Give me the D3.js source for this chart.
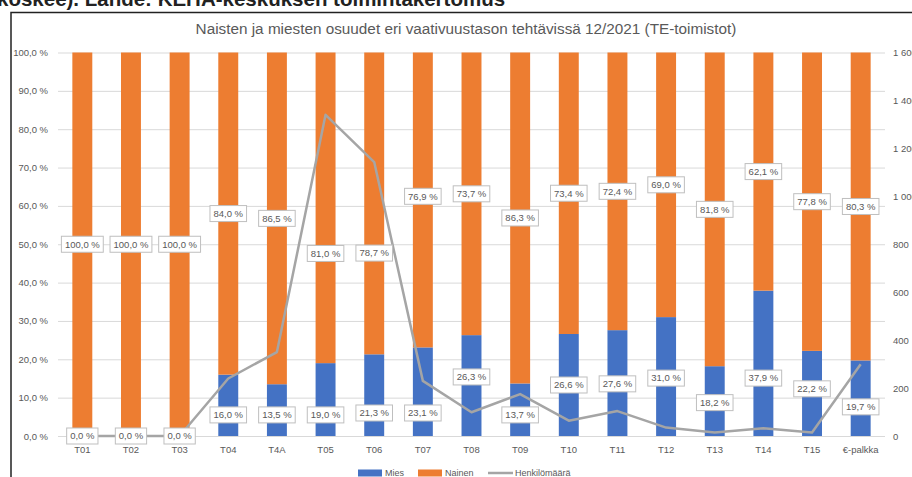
<!DOCTYPE html>
<html>
<head>
<meta charset="utf-8">
<script src="https://cdn.jsdelivr.net/npm/d3@7"></script>
<style>
  body { margin: 0; background: #fff; }
  svg { display: block; font-family: "Liberation Sans", Arial, sans-serif; }
</style>
</head>
<body>
<div id="chart"></div>
<script>
// Categories (vaativuustaso)
const categories = ["T01","T02","T03","T04","T4A","T05","T06","T07","T08","T09","T10","T11","T12","T13","T14","T15","€-palkka"];
// Shares in percent
const mies   = [0, 0, 0, 16.0, 13.5, 19.0, 21.3, 23.1, 26.3, 13.7, 26.6, 27.6, 31.0, 18.2, 37.9, 22.2, 19.7];
const nainen = [100, 100, 100, 84.0, 86.5, 81.0, 78.7, 76.9, 73.7, 86.3, 73.4, 72.4, 69.0, 81.8, 62.1, 77.8, 80.3];
// Headcount (right axis)
const henkilomaara = [0, 0, 0, 240, 350, 1340, 1143, 230, 99, 175, 64, 104, 35, 15, 32, 15, 299];

// Axis ticks
const pctTicks = [0, 10, 20, 30, 40, 50, 60, 70, 80, 90, 100];
const countTicks = [0, 200, 400, 600, 800, 1000, 1200, 1400, 1600];

// Where the data labels sit, in percent units (some were dragged in the original)
const miesLabelAt   = [0, 0, 0, 5.5, 5.5, 5.5, 6, 6, 15.4, 5.5, 13.3, 13.6, 15.1, 8.7, 15.1, 12.3, 7.6];
const nainenLabelAt = [50, 50, 50, 58, 56.75, 47.6, 47.7, 62.5, 63.15, 56.85, 63.3, 63.8, 65.5, 59.1, 68.95, 61.1, 59.85];

const title = "Naisten ja miesten osuudet eri vaativuustason tehtävissä 12/2021 (TE-toimistot)";
const sourceText = "koskee). Lähde: KEHA-keskuksen toimintakertomus";

function draw(container) {
  const width = 912;
  const height = 477;
  const plot = {left: 58, right: 885, top: 52.5, bottom: 436};

  const blue = "#4472C4";
  const orange = "#ED7D31";
  const gray = "#A5A5A5";
  const textColor = "#595959";

  const fi = d3.formatLocale({decimal: ",", thousands: "\u00a0", grouping: [3], currency: ["", "€"]});
  const pct = v => fi.format(".1f")(v) + " %";
  const cnt = fi.format(",d");

  const x = d3.scaleBand()
    .domain(categories)
    .range([plot.left, plot.right])
    .paddingInner(0.59)
    .paddingOuter(0.295);

  const y = d3.scaleLinear().domain([0, 100]).range([plot.bottom, plot.top]);
  const y2 = d3.scaleLinear().domain([0, 1600]).range([plot.bottom, plot.top]);

  const svg = d3.select(container).append("svg")
    .attr("width", width)
    .attr("height", height);

  // text above the frame, cut off by the screenshot
  svg.append("text")
    .attr("x", -3).attr("y", 6)
    .attr("font-size", 20.5).attr("font-weight", "bold")
    .attr("fill", "#222")
    .text(sourceText);

  // frame
  svg.append("path")
    .attr("d", `M11,${height} V12.5 H${width}`)
    .attr("fill", "none")
    .attr("stroke", "#222")
    .attr("stroke-width", 1.5);

  svg.append("text")
    .attr("x", 466).attr("y", 34)
    .attr("text-anchor", "middle")
    .attr("font-size", 15.3)
    .attr("fill", textColor)
    .text(title);

  /* **************************************
   * Gridlines and axes
   **************************************** */
  svg.append("g")
    .attr("transform", `translate(${plot.left},0)`)
    .call(d3.axisLeft(y).tickValues(pctTicks).tickFormat(pct)
      .tickSize(-(plot.right - plot.left)).tickPadding(10))
    .call(g => g.select(".domain").remove())
    .call(g => g.selectAll(".tick line").attr("stroke", "#D9D9D9"))
    .call(g => g.selectAll(".tick text").attr("fill", textColor)
      .attr("font-size", 9.5).attr("font-family", null));

  svg.append("g")
    .attr("transform", `translate(${plot.right},0)`)
    .call(d3.axisRight(y2).tickValues(countTicks).tickFormat(cnt)
      .tickSize(0).tickPadding(8))
    .call(g => g.select(".domain").remove())
    .call(g => g.selectAll(".tick text").attr("fill", textColor)
      .attr("font-size", 9.5).attr("font-family", null));

  svg.append("g")
    .attr("transform", `translate(0,${plot.bottom})`)
    .call(d3.axisBottom(x).tickSize(0).tickPadding(10))
    .call(g => g.select(".domain").remove())
    .call(g => g.selectAll(".tick text").attr("fill", textColor)
      .attr("font-size", 9.5).attr("font-family", null));

  /* **************************************
   * Stacked bars
   **************************************** */
  const rows = categories.map((c, i) => ({cat: c, mies: mies[i], nainen: nainen[i], n: henkilomaara[i], i: i}));

  svg.append("g").selectAll("rect")
    .data(rows)
    .join("rect")
      .attr("x", d => x(d.cat))
      .attr("width", x.bandwidth())
      .attr("y", d => y(d.mies))
      .attr("height", d => y(0) - y(d.mies))
      .attr("fill", blue);

  svg.append("g").selectAll("rect")
    .data(rows)
    .join("rect")
      .attr("x", d => x(d.cat))
      .attr("width", x.bandwidth())
      .attr("y", d => y(d.mies + d.nainen))
      .attr("height", d => y(d.mies) - y(d.mies + d.nainen))
      .attr("fill", orange);

  /* **************************************
   * Headcount line
   **************************************** */
  const line = d3.line()
    .x(d => x(d.cat) + x.bandwidth() / 2)
    .y(d => y2(d.n));

  svg.append("path")
    .datum(rows)
    .attr("d", line)
    .attr("fill", "none")
    .attr("stroke", gray)
    .attr("stroke-width", 2.5)
    .attr("stroke-linejoin", "round");

  /* **************************************
   * Data labels
   **************************************** */
  function addLabels(values, at) {
    const g = svg.append("g").selectAll("g")
      .data(rows)
      .join("g")
        .attr("transform", d => `translate(${x(d.cat) + x.bandwidth() / 2},${y(at[d.i])})`);
    g.append("rect")
      .attr("fill", "#fff")
      .attr("stroke", "#BFBFBF")
      .attr("stroke-width", 1);
    const t = g.append("text")
      .attr("text-anchor", "middle")
      .attr("dy", "0.35em")
      .attr("font-size", 9.5)
      .attr("fill", textColor)
      .text(d => pct(values[d.i]));
    t.each(function(d) {
      const w = this.getComputedTextLength() + 7;
      d3.select(this.parentNode).select("rect")
        .attr("x", -w / 2).attr("width", w)
        .attr("y", -8).attr("height", 16);
    });
  }
  addLabels(mies, miesLabelAt);
  addLabels(nainen, nainenLabelAt);

  /* **************************************
   * Legend
   **************************************** */
  const legend = [
    {name: "Mies", color: blue, type: "rect", x: 358},
    {name: "Nainen", color: orange, type: "rect", x: 418},
    {name: "Henkilömäärä", color: gray, type: "line", x: 488}
  ];
  const lg = svg.append("g").selectAll("g")
    .data(legend)
    .join("g")
      .attr("transform", d => `translate(${d.x},473)`);
  lg.filter(d => d.type === "rect").append("rect")
    .attr("x", 0).attr("y", -3.5).attr("width", 24).attr("height", 7)
    .attr("fill", d => d.color);
  lg.filter(d => d.type === "line").append("line")
    .attr("x1", 0).attr("x2", 25).attr("y1", 0).attr("y2", 0)
    .attr("stroke", d => d.color).attr("stroke-width", 2.5);
  lg.append("text")
    .attr("x", 27)
    .attr("dy", "0.35em")
    .attr("font-size", 9)
    .attr("fill", textColor)
    .text(d => d.name);

  return svg.node();
}

draw("#chart");
</script>
</body>
</html>
